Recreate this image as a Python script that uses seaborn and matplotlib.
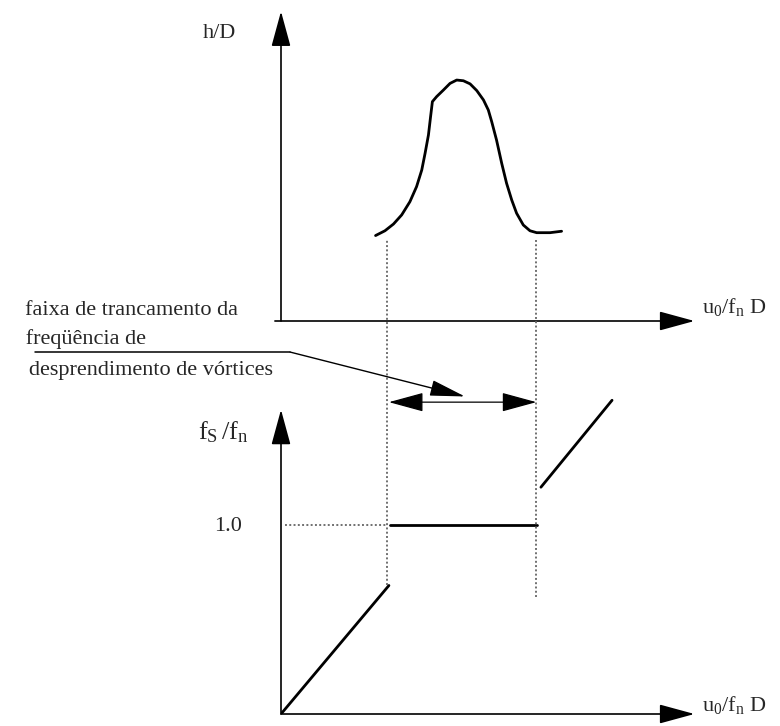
import seaborn as sns
import matplotlib.pyplot as plt

# --- data (diagram units: reduced velocity Ur on x) ---
lock_in = [3.5, 8.4]                      # lock-in band limits (Ur)
curve_ur = [3.11, 3.42, 3.70, 3.97, 4.24, 4.46, 4.63, 4.74, 4.85, 4.92, 4.98, 5.12,
            5.34, 5.56, 5.78, 6.00, 6.22, 6.44, 6.66, 6.82, 6.93, 7.09, 7.26, 7.42,
            7.59, 7.75, 7.97, 8.19, 8.41, 8.85, 9.23]
curve_hd = [0.356, 0.376, 0.404, 0.442, 0.497, 0.560, 0.629, 0.699, 0.775, 0.851, 0.914, 0.935,
            0.962, 0.990, 1.004, 1.001, 0.988, 0.960, 0.921, 0.879, 0.831, 0.754, 0.657, 0.574,
            0.504, 0.449, 0.400, 0.376, 0.368, 0.368, 0.374]
below_ur = [0.0, 3.55]                    # f_s/f_n below lock-in
below_fs = [0.0, 0.68]
locked_ur = [3.59, 8.42]                  # f_s/f_n = 1.0 in lock-in
locked_fs = [1.0, 1.0]
above_ur = [8.55, 10.89]                  # f_s/f_n above lock-in
above_fs = [1.20, 1.66]
guide_top = 2.51                          # dotted guides top (bottom-panel units)
guide_bottom = [0.68, 0.62]
label_lines = ["faixa de trancamento da", " freqüência de", "desprendimento de vórtices"]

sns.set_style("white")
plt.rcParams['font.family'] = ['Liberation Serif', 'DejaVu Serif']
plt.rcParams['mathtext.fontset'] = 'custom'
plt.rcParams['mathtext.rm'] = 'Liberation Serif'
plt.rcParams['mathtext.it'] = 'Liberation Serif:italic'

W, H = 780, 726
fig = plt.figure(figsize=(W / 100, H / 100), dpi=100)
ax_top = fig.add_axes([281 / W, 405 / H, 456 / W, 312 / H])
ax_bot = fig.add_axes([281 / W, 12 / H, 456 / W, 340.2 / H])
ax_top.set(xlim=(0, 15), ylim=(0, 1.3))
ax_bot.set(xlim=(0, 15), ylim=(0, 1.8))
for ax in (ax_top, ax_bot):
    ax.axis('off')

head = dict(arrowstyle='-|>,head_length=1.1,head_width=0.3', mutation_scale=20,
            color='black', lw=1.2, shrinkA=0, shrinkB=0)
fsz = 16
dot = dict(ls=(0, (1, 1.2)), color='#707070', lw=1.4)

# --- top panel: amplitude response ---
ax_top.annotate('', xy=(0, 1.29), xytext=(0, 0), arrowprops=head)
ax_top.annotate('', xy=(13.6, 0), xytext=(-0.2, 0), arrowprops=head)
sns.lineplot(x=curve_ur, y=curve_hd, sort=False, color='black', lw=2.0, ax=ax_top)
ax_top.text(-1.48, 1.2, 'h/D', ha='right', va='center', fontsize=fsz)
ax_top.text(13.85, 0.06, r'$\mathrm{u_0/f_n}$ D', ha='left', va='center', fontsize=fsz)

# --- bottom panel: shedding frequency ---
ax_bot.annotate('', xy=(0, 1.61), xytext=(0, 0), arrowprops=head)
ax_bot.annotate('', xy=(13.6, 0), xytext=(0, 0), arrowprops=head)
for xs, ys in [(below_ur, below_fs), (locked_ur, locked_fs), (above_ur, above_fs)]:
    sns.lineplot(x=xs, y=ys, color='black', lw=2.0, ax=ax_bot)
ax_bot.plot([0.13, 3.45], [1.0, 1.0], **dot)
for xv, yb in zip(lock_in, guide_bottom):
    ax_bot.plot([xv, xv], [yb, guide_top], clip_on=False, **dot)
ax_bot.text(-1.73, 0.99, '1.0', ha='center', va='center', fontsize=fsz)
ax_bot.text(-1.91, 1.49, r'$\mathrm{f_S\,/f_n}$', ha='center', va='center', fontsize=fsz + 3)
ax_bot.text(13.85, 0.05, r'$\mathrm{u_0/f_n}$ D', ha='left', va='center', fontsize=fsz)

# lock-in band double arrow
dbl = dict(head, arrowstyle='<|-|>,head_length=1.1,head_width=0.3', lw=0.9)
ax_bot.annotate('', xy=(lock_in[1], 1.65), xytext=(lock_in[0] + 0.05, 1.65), arrowprops=dbl)

# text label with leader line
ax_bot.text(-1.41, 2.111, label_lines[0], ha='right', va='baseline', fontsize=fsz)
ax_bot.text(-4.44, 1.958, label_lines[1], ha='right', va='baseline', fontsize=fsz)
ax_bot.text(-0.26, 1.794, label_lines[2], ha='right', va='baseline', fontsize=fsz)
ax_bot.plot([-8.1, 0.3], [1.915, 1.915], color='black', lw=1.1, clip_on=False)
ax_bot.annotate('', xy=(6.05, 1.68), xytext=(0.3, 1.915),
                arrowprops=dict(head, arrowstyle='-|>,head_length=1.1,head_width=0.25', lw=1.0))

fig.savefig('out.png', dpi=100)
